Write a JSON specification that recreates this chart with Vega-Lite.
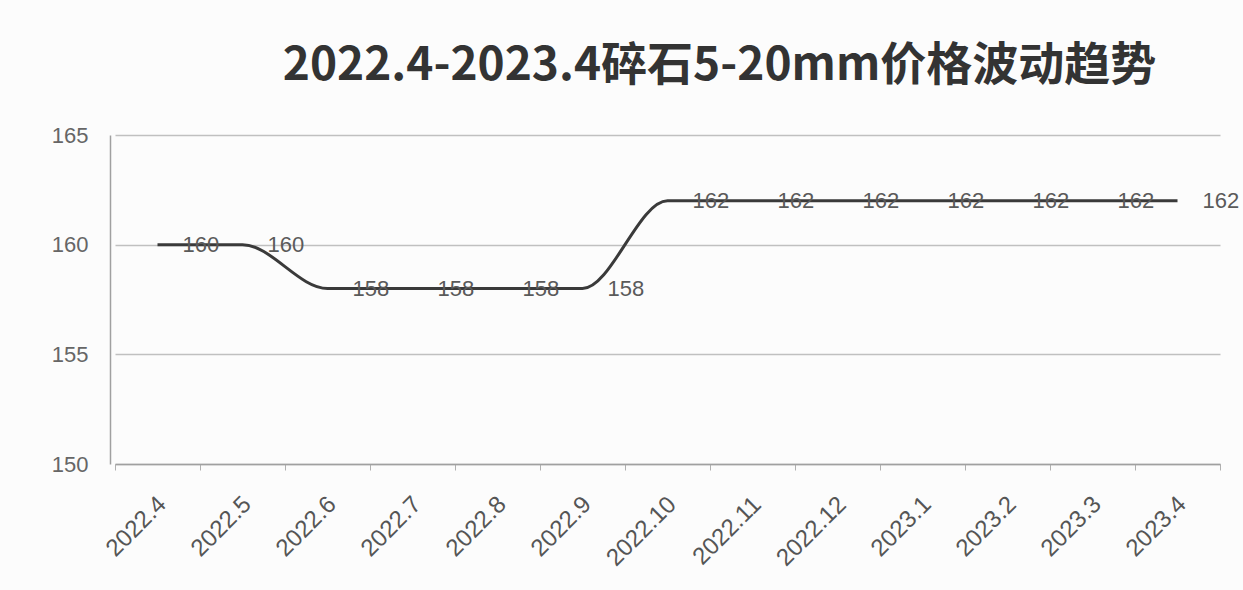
{
  "$schema": "https://vega.github.io/schema/vega-lite/v6.json",
  "autosize": {"type": "none"},
  "width": 1105,
  "height": 329,
  "padding": {"left": 115, "top": 135, "right": 23, "bottom": 126},
  "background": "#fcfcfc",
  "title": {
    "text": "2022.4-2023.4碎石5-20mm价格波动趋势",
    "font": "Noto Sans CJK SC",
    "fontSize": 46,
    "fontWeight": "bold",
    "color": "#333333",
    "anchor": "middle",
    "dx": 52,
    "offset": 34
  },
  "data": {
    "values": [
      {"month": "2022.4", "price": 160},
      {"month": "2022.5", "price": 160},
      {"month": "2022.6", "price": 158},
      {"month": "2022.7", "price": 158},
      {"month": "2022.8", "price": 158},
      {"month": "2022.9", "price": 158},
      {"month": "2022.10", "price": 162},
      {"month": "2022.11", "price": 162},
      {"month": "2022.12", "price": 162},
      {"month": "2023.1", "price": 162},
      {"month": "2023.2", "price": 162},
      {"month": "2023.3", "price": 162},
      {"month": "2023.4", "price": 162}
    ]
  },
  "encoding": {
    "x": {
      "field": "month",
      "type": "ordinal",
      "sort": null,
      "scale": {"type": "band", "paddingInner": 0, "paddingOuter": 0},
      "axis": {
        "title": null,
        "labelAngle": -45,
        "labelFont": "Liberation Sans",
        "labelFontSize": 24,
        "labelColor": "#555555",
        "domainColor": "#a0a0a0",
        "domainWidth": 1.5,
        "tickColor": "#b0b0b0",
        "tickBand": "extent",
        "ticks": true,
        "tickSize": 6,
        "labelPadding": 22,
        "labelOffset": -4
      }
    },
    "y": {
      "field": "price",
      "type": "quantitative",
      "scale": {"domain": [150, 165], "nice": false, "zero": false},
      "axis": {
        "title": null,
        "offset": 5,
        "values": [150, 155, 160, 165],
        "labelFont": "Liberation Sans",
        "labelFontSize": 22,
        "labelColor": "#666666",
        "domainColor": "#a0a0a0",
        "domainWidth": 1.5,
        "ticks": false,
        "labelPadding": 22,
        "gridColor": "#c0c0c0",
        "gridWidth": 1.5
      }
    }
  },
  "layer": [
    {
      "mark": {"type": "line", "color": "#3a3a3a", "strokeWidth": 3, "interpolate": "monotone"}
    },
    {
      "mark": {"type": "text", "align": "left", "baseline": "middle", "dx": 25, "font": "Liberation Sans", "fontSize": 22, "color": "#5a5a5a"},
      "encoding": {"text": {"field": "price", "type": "quantitative"}}
    }
  ],
  "config": {"view": {"stroke": null}}
}
